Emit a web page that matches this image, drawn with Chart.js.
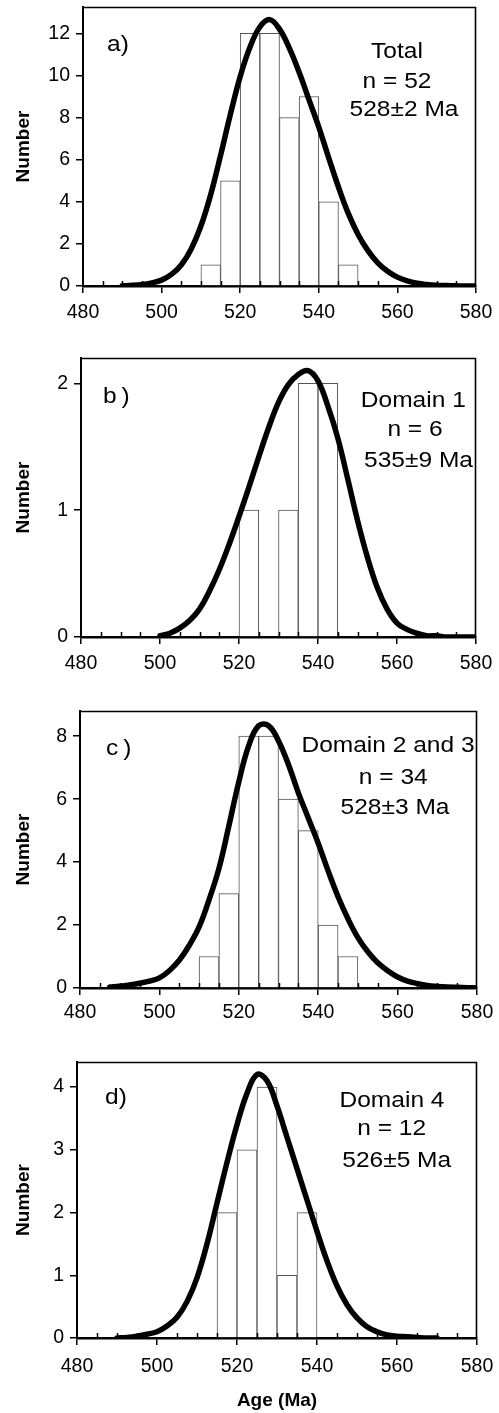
<!DOCTYPE html>
<html><head><meta charset="utf-8">
<script src="https://cdn.jsdelivr.net/npm/chart.js@4/dist/chart.umd.min.js"></script>
<style>
html,body{margin:0;padding:0;background:#fff;}
body{width:499px;height:1413px;position:relative;overflow:hidden;}
canvas{position:absolute;left:0;display:block;}
</style></head><body>
<canvas id="c0"></canvas><canvas id="c1"></canvas><canvas id="c2"></canvas><canvas id="c3"></canvas>
<script>
// ---------- DATA ----------
const curveAges = [480,482.5,485,487.5,490,492.5,495,497.5,500,502.5,505,507.5,510,512.5,515,517.5,520,522.5,525,527.5,530,532.5,535,537.5,540,542.5,545,547.5,550,552.5,555,557.5,560,562.5,565,567.5,570,572.5,575,577.5,580];

const totalBinMid = [512.5,517.5,522.5,527.5,532.5,537.5,542.5,547.5];
const totalCount  = [1,5,12,12,8,9,4,1];
const totalCurve  = [null,null,null,null,0.01,0.03,0.07,0.15,0.28,0.55,1.0,1.75,2.85,4.35,6.2,8.15,9.95,11.35,12.3,12.65,12.2,11.3,10.15,8.85,7.55,6.1,4.7,3.45,2.45,1.68,1.1,0.7,0.42,0.24,0.13,0.07,0.035,0.02,0.01,0.0,0.0];

const dom1BinMid = [522.5,532.5,537.5,542.5];
const dom1Count  = [1,1,2,2];
const dom1Curve  = [null,null,null,null,null,null,null,null,0.01,0.03,0.07,0.13,0.22,0.36,0.53,0.73,0.95,1.18,1.42,1.65,1.85,1.99,2.07,2.1,2.02,1.82,1.57,1.25,0.92,0.63,0.39,0.22,0.11,0.06,0.03,0.01,0.01,0,0,0,0];

const dom23BinMid = [512.5,517.5,522.5,527.5,532.5,537.5,542.5,547.5];
const dom23Count  = [1,3,8,8,6,5,2,1];
const dom23Curve  = [null,null,null,0.03,0.06,0.1,0.15,0.22,0.32,0.55,0.88,1.35,1.94,2.8,3.8,5.15,6.55,7.7,8.33,8.33,7.85,7.1,6.2,5.4,4.6,3.72,2.9,2.2,1.6,1.15,0.8,0.55,0.35,0.22,0.14,0.08,0.05,0.03,0.02,0.01,0.0];

const dom4BinMid = [517.5,522.5,527.5,532.5,537.5];
const dom4Count  = [2,3,4,1,2];
const dom4Curve  = [null,null,null,null,0.0,0.01,0.03,0.06,0.10,0.19,0.33,0.58,0.96,1.5,2.15,2.8,3.4,3.9,4.2,4.1,3.7,3.2,2.7,2.2,1.7,1.23,0.83,0.53,0.32,0.18,0.10,0.05,0.03,0.02,0.01,0.0,0.0,null,null,null,null];

const xMin = 480, xMax = 580, xStep = 20, xMinorStep = 5;
const yMaxes  = [13.25, 2.2, 8.8, 4.4];
const ySteps  = [2, 1, 2, 1];
const panelTags  = ['a)', 'b\u2009)', 'c\u2009)', 'd)'];
const panelNotes = [
  ['Total', 'n = 52', '528\u00B12 Ma'],
  ['Domain 1', 'n = 6', '535\u00B19 Ma'],
  ['Domain 2 and 3', 'n = 34', '528\u00B13 Ma'],
  ['Domain 4', 'n = 12', '526\u00B15 Ma']
];
const yTitle = 'Number';
const xTitle = 'Age (Ma)';

// ---------- LAYOUT (page pixels) ----------
const layouts = [
  {top:0,    h:325, L:83, R:476, T:7,    B:286,  xPad:8,  tag:[107,50.5],  notes:[[397,58.2],[397,87.7],[404,115.7]]},
  {top:325,  h:355, L:81, R:476, T:358,  B:637,  xPad:8,  tag:[103,402.7], notes:[[413.3,406.7],[415,435.7],[418.5,466.7]]},
  {top:680,  h:350, L:80, R:477, T:711,  B:988,  xPad:6,  tag:[106,755],   notes:[[388,752.3],[393.3,784],[395,814]]},
  {top:1030, h:383, L:77, R:477, T:1062, B:1338, xPad:10, tag:[105,1104],  notes:[[392,1106.7],[391.7,1135],[396.7,1166.7]]}
];

const binMids = [totalBinMid, dom1BinMid, dom23BinMid, dom4BinMid];
const counts  = [totalCount, dom1Count, dom23Count, dom4Count];
const curves  = [totalCurve, dom1Curve, dom23Curve, dom4Curve];

const FONT = 'Liberation Sans, Arial, Helvetica, sans-serif';
const NOTE_SIZE = 22.5, NOTE_SX = 1.09;

const decorPlugin = {
  id: 'decor',
  afterDatasetsDraw(chart, args, o) {
    const {ctx, chartArea: a} = chart;
    const x = chart.scales.x;
    ctx.save();
    ctx.strokeStyle = '#000';
    ctx.lineWidth = 1.5;
    for (let v = xMin; v <= xMax; v += xMinorStep) {
      if ((v - xMin) % xStep === 0) continue;
      const px = Math.round(x.getPixelForValue(v)) + 0.5;
      ctx.beginPath(); ctx.moveTo(px, a.bottom); ctx.lineTo(px, a.bottom - 5); ctx.stroke();
    }
    ctx.lineWidth = 1.6;
    ctx.beginPath();
    ctx.moveTo(a.left, a.top + 0.5); ctx.lineTo(a.right - 0.5, a.top + 0.5); ctx.lineTo(a.right - 0.5, a.bottom);
    ctx.stroke();
    ctx.restore();
  },
  afterDraw(chart, args, o) {
    const ctx = chart.ctx;
    const lay = o.lay;
    ctx.save();
    ctx.fillStyle = '#000';
    ctx.font = NOTE_SIZE + 'px ' + FONT;
    ctx.textBaseline = 'alphabetic';
    ctx.save();
    ctx.translate(lay.tag[0], lay.tag[1] - lay.top);
    ctx.scale(NOTE_SX, 1);
    ctx.textAlign = 'left';
    ctx.fillText(o.tag, 0, 0);
    ctx.restore();
    o.notes.forEach((t, i) => {
      ctx.save();
      ctx.translate(lay.notes[i][0], lay.notes[i][1] - lay.top);
      ctx.scale(NOTE_SX, 1);
      ctx.textAlign = 'center';
      ctx.fillText(t, 0, 0);
      ctx.restore();
    });
    ctx.restore();
  }
};

layouts.forEach((lay, i) => {
  const cv = document.getElementById('c' + i);
  cv.width = 499; cv.height = lay.h;
  cv.style.top = lay.top + 'px';
  cv.style.width = '499px'; cv.style.height = lay.h + 'px';

  const barData = binMids[i].map((m, k) => ({x: m, y: counts[i][k]}));
  const lineData = [];
  curveAges.forEach((ag, k) => { if (curves[i][k] !== null) lineData.push({x: ag, y: curves[i][k]}); });
  const isLast = i === layouts.length - 1;

  new Chart(cv, {
    type: 'line',
    data: {
      datasets: [
        {type: 'line', data: lineData, borderColor: '#000', borderWidth: 5.5, pointRadius: 0,
         tension: 0.4, fill: false, order: 0, borderCapStyle: 'round', borderJoinStyle: 'round'},
        {type: 'bar', data: barData, backgroundColor: '#fff', borderColor: '#555', borderWidth: 1,
         barPercentage: 1, categoryPercentage: 1, order: 1}
      ]
    },
    options: {
      responsive: false, animation: false, devicePixelRatio: 1,
      layout: {padding: {top: lay.T - lay.top, right: 499 - lay.R, left: 0, bottom: 0}},
      plugins: {legend: {display: false}, tooltip: {enabled: false},
        decor: {lay: lay, tag: panelTags[i], notes: panelNotes[i]}},
      scales: {
        x: {
          type: 'linear', min: xMin, max: xMax, offset: false,
          ticks: {stepSize: xStep, color: '#000', font: {family: FONT, size: 19.5}, padding: lay.xPad, maxRotation: 0},
          grid: {drawOnChartArea: false, drawTicks: true, tickLength: 7, color: '#000', lineWidth: 1.5, offset: false},
          border: {display: true, color: '#000', width: 2.5},
          title: {display: isLast, text: xTitle, color: '#000', font: {family: FONT, size: 19, weight: 'bold'}, padding: {top: 0, bottom: 1.3}},
          afterFit(s) { s.height = lay.h - (lay.B - lay.top); s.paddingLeft = 0; s.paddingRight = 0; }
        },
        y: {
          type: 'linear', min: 0, max: yMaxes[i],
          ticks: {stepSize: ySteps[i], includeBounds: false, color: '#000', font: {family: FONT, size: 19.5}, padding: 6},
          grid: {drawOnChartArea: false, drawTicks: true, tickLength: 7, color: '#000', lineWidth: 1.5},
          border: {display: true, color: '#000', width: 2},
          title: {display: true, text: yTitle, color: '#000', font: {family: FONT, size: 19, weight: 'bold'}, padding: {top: 12.6, bottom: 0}},
          afterFit(s) { s.width = lay.L; s.paddingTop = 0; s.paddingBottom = 0; }
        }
      }
    },
    plugins: [decorPlugin]
  });
});
</script>
</body></html>
